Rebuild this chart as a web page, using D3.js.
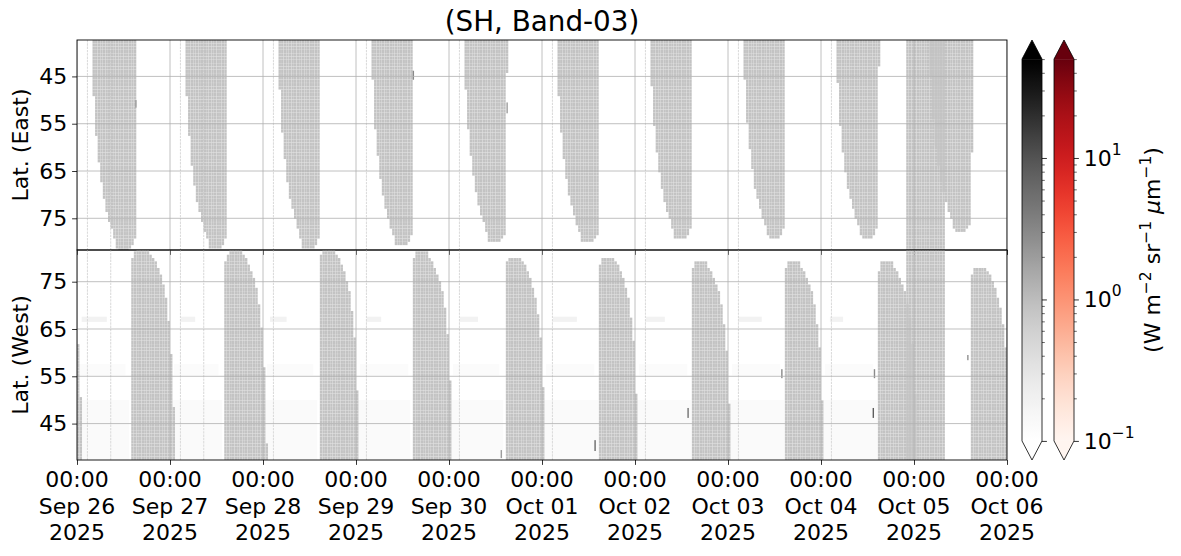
<!DOCTYPE html>
<html><head><meta charset="utf-8">
<script src="https://cdn.jsdelivr.net/npm/d3@7"></script>
<style>body{margin:0;background:#fff} svg{display:block;font-family:"DejaVu Sans",sans-serif}</style>
</head><body><svg id="c" width="1181" height="556"></svg>
<script>
// ---------------- data ----------------
const chartTitle = "(SH, Band-03)";
const startDate = "2025-09-26T00:00:00Z";
const endDate = "2025-10-06T00:00:00Z";
const dayTickLabels = ["Sep 26","Sep 27","Sep 28","Sep 29","Sep 30","Oct 01","Oct 02","Oct 03","Oct 04","Oct 05","Oct 06"];
const latTicks = [45, 55, 65, 75];
const latDomain = [37.3, 81.7];
const colorDomain = [0.1, 50];
const cbMajor = [0.1, 1, 10];
const cbMajorExp = ["−1", "0", "1"];
const cbMinor = [0.2,0.3,0.4,0.5,0.6,0.7,0.8,0.9,2,3,4,5,6,7,8,9,20,30,40,50];

// East (top panel) swaths: day index from Sep 26, start/end hour of day, tip latitude, value
const eastDay       = [0, 1, 2, 3, 4, 5, 6, 7, 8, 9];
const eastStartHour = [3.87, 3.87, 3.95, 4.05, 3.87, 3.80, 3.87, 3.95, 3.87, 3.87];
const eastEndHour   = [15.23, 14.75, 14.90, 14.80, 15.05, 14.96, 14.90, 14.97, 15.05, 15.15];
const eastTipLat    = [81.5, 81.0, 81.0, 80.6, 79.8, 79.8, 78.9, 78.7, 78.7, 77.5];
const eastValue     = [0.85, 0.85, 0.85, 0.85, 0.85, 0.85, 0.85, 0.85, 0.85, 0.85];
// East swath edge shape (distance from tip in deg -> fraction of swath width)
const eastEdgeDist  = [0, 2, 4, 6.5, 10, 16, 26, 36, 45];
const eastLeftFrac  = [0.58, 0.52, 0.45, 0.37, 0.28, 0.18, 0.075, 0.02, 0];
const eastRightDist = [0, 1, 2.5, 45];
const eastRightFrac = [0.85, 0.93, 0.98, 1.0];

// West (bottom panel) swaths
const westDay        = [-1, 0, 1, 2, 3, 4, 5, 6, 7, 8, 9];
const westStartHour  = [14.6, 14.2, 14.27, 14.5, 14.37, 14.45, 14.63, 14.63, 14.53, 14.63, 14.63];
const westWidthHours = [10.8, 11.1, 10.84, 10.3, 10.6, 10.5, 10.2, 10.15, 10.3, 10.3, 10.3];
const westTipLat     = [81.7, 81.7, 81.5, 81.5, 81.0, 79.8, 79.8, 78.7, 78.7, 78.7, 77.7];
const westValue      = [0.85, 0.85, 0.85, 0.85, 0.85, 0.85, 0.85, 0.85, 0.85, 0.85, 0.85];
const westEdgeDist   = [0, 1.7, 4, 6.5, 10, 14, 18, 25, 32, 45];
const westRightFrac  = [0.38, 0.51, 0.62, 0.71, 0.79, 0.845, 0.89, 0.93, 0.97, 1.0];
const westLeftDist   = [0, 1, 2.5, 45];
const westLeftFrac   = [0.1, 0.04, 0, 0];

// full-latitude block (both panels), hours from Sep 26 00:00
const blockStartHour = [213.94];
const blockEndHour   = [224.26];
const blockValue     = [0.85];

// faint columns (hours from Sep 26 00:00), both panels
const faintLineHours = [2.7, 8.7, 26.7, 32.7, 50.7, 74.7, 98.7, 122.7, 146.7, 170.7, 194.7];
const faintLineValue = 0.42;

// faint patches in the West panel
const faintStartHour = [1.2, 26.8, 49.8, 74.7, 98.8, 122.8, 146.8, 170.6, 194.3,
                        0.5, 25, 49, 73, 97, 121, 145, 169, 193,
                        0.3, 24.5, 48.5, 72.5, 96.5, 120.5, 144.5, 168.5, 192.5];
const faintEndHour   = [7.7, 30.5, 54.1, 78.5, 103.5, 129, 151.7, 176.7, 197.7,
                        12.5, 36.5, 61, 85.5, 109, 133.5, 157.5, 181.5, 205.5,
                        13.5, 37.5, 62, 86, 110, 134.5, 158.5, 182.5, 206.5];
const faintLatLo     = [66.5,66.5,66.5,66.5,66.5,66.5,66.5,66.5,66.5,
                        55.2,55.2,55.2,55.2,55.2,55.2,55.2,55.2,55.2,
                        37.3,37.3,37.3,37.3,37.3,37.3,37.3,37.3,37.3];
const faintLatHi     = [67.6,67.6,67.6,67.6,67.6,67.6,67.6,67.6,67.6,
                        57.6,57.6,57.6,57.6,57.6,57.6,57.6,57.6,57.6,
                        50,50,50,50,50,50,50,50,50];
const faintValue     = [0.19,0.19,0.19,0.19,0.19,0.19,0.19,0.19,0.19,
                        0.122,0.122,0.122,0.122,0.122,0.122,0.122,0.122,0.122,
                        0.13,0.13,0.13,0.13,0.13,0.13,0.13,0.13,0.13];

// isolated darker pixels
const markPanel  = ["top","top","top","bot","bot","bot","bot","bot","bot","bot"];
const markHour   = [15.2, 86.8, 111.0, 109.5, 133.7, 157.7, 181.9, 205.8, 205.5, 229.9];
const markLatLo  = [50.0, 43.8, 50.5, 37.7, 39.2, 46.2, 54.6, 54.6, 46.2, 58.4];
const markLatHi  = [51.6, 45.7, 52.8, 39.4, 41.5, 48.3, 56.5, 56.5, 48.3, 59.5];
const markValue  = [2.0, 3, 2.0, 2, 6, 5, 3, 3, 8, 2.5];

// ---------------- setup ----------------
const svg = d3.select("#c");
const L = 77, R = 1007, T = 40, M = 250, B = 460;
const cellHours = 2/3, cellLat = 0.7, gridOrigin = -24, gap = 0.14;

const t0 = new Date(startDate);
const toDate = h => new Date(t0.getTime() + h * 3600e3);
const x = d3.scaleUtc().domain([new Date(startDate), new Date(endDate)]).range([L, R]);
const xh = h => x(toDate(h));
const yTop = d3.scaleLinear().domain(latDomain).range([T, M]);
const yBot = d3.scaleLinear().domain([latDomain[1], latDomain[0]]).range([M, B]);
const grey = d3.scaleSequentialLog(d3.interpolateGreys).domain(colorDomain).clamp(true);

const defs = svg.append("defs");
defs.append("clipPath").attr("id","clipTop").append("rect").attr("x",L).attr("y",T).attr("width",R-L).attr("height",M-T);
defs.append("clipPath").attr("id","clipBot").append("rect").attr("x",L).attr("y",M).attr("width",R-L).attr("height",B-M);

// ---------------- build cells ----------------
const cells = [];
function addCells(panel, hl, hr, l0, l1, value) {
  const k0 = Math.ceil((hl - gridOrigin) / cellHours - 0.5);
  const k1 = Math.floor((hr - gridOrigin) / cellHours - 0.5);
  for (let k = k0; k <= k1; k++) {
    cells.push({panel, a: gridOrigin + k * cellHours, b: gridOrigin + (k + 1) * cellHours, l0, l1, value});
  }
}
const rows = [];
for (let r = 0; latDomain[0] + r * cellLat < latDomain[1] - 1e-6; r++) {
  const l0 = latDomain[0] + r * cellLat;
  rows.push([l0, Math.min(l0 + cellLat, latDomain[1])]);
}
const eL = d3.scaleLinear().domain(eastEdgeDist).range(eastLeftFrac).clamp(true);
const eR = d3.scaleLinear().domain(eastRightDist).range(eastRightFrac).clamp(true);
const wR = d3.scaleLinear().domain(westEdgeDist).range(westRightFrac).clamp(true);
const wL = d3.scaleLinear().domain(westLeftDist).range(westLeftFrac).clamp(true);

eastDay.forEach((d, i) => {
  const a = d * 24 + eastStartHour[i], b = d * 24 + eastEndHour[i], w = b - a;
  rows.forEach(([l0, l1]) => {
    const dist = eastTipLat[i] - (l0 + l1) / 2;
    if (dist < -0.25) return;
    addCells("top", a + eL(dist) * w, a + eR(dist) * w, l0, l1, eastValue[i]);
  });
});
westDay.forEach((d, i) => {
  const a = d * 24 + westStartHour[i], w = westWidthHours[i];
  rows.forEach(([l0, l1]) => {
    const dist = westTipLat[i] - (l0 + l1) / 2;
    if (dist < -0.25) return;
    addCells("bot", a + wL(dist) * w, a + wR(dist) * w, l0, l1, westValue[i]);
  });
});
blockStartHour.forEach((s, i) => {
  rows.forEach(([l0, l1]) => {
    addCells("top", s, blockEndHour[i], l0, l1, blockValue[i]);
    addCells("bot", s, blockEndHour[i], l0, l1, blockValue[i]);
  });
});

// ---------------- draw data ----------------
const panels = [
  {id: "top", clip: "url(#clipTop)", y: yTop},
  {id: "bot", clip: "url(#clipBot)", y: yBot}
];
const days = d3.utcDay.range(new Date(startDate), d3.utcDay.offset(new Date(endDate), 1));
panels.forEach(p => {
  const g = svg.append("g").attr("clip-path", p.clip);
  if (p.id === "bot") {
    g.selectAll("rect.faint").data(faintStartHour.map((s, i) => ({a: s, b: faintEndHour[i], l0: faintLatLo[i], l1: faintLatHi[i], v: faintValue[i]})))
      .join("rect").attr("class","faint")
      .attr("x", d => xh(d.a)).attr("width", d => xh(d.b) - xh(d.a))
      .attr("y", d => Math.min(p.y(d.l0), p.y(d.l1))).attr("height", d => Math.abs(p.y(d.l1) - p.y(d.l0)))
      .attr("fill", d => grey(d.v));
  }
  g.selectAll("line.faint").data(faintLineHours).join("line").attr("class","faint")
    .attr("x1", d => xh(d)).attr("x2", d => xh(d))
    .attr("y1", p.y(latDomain[0])).attr("y2", p.y(latDomain[1]))
    .attr("stroke", grey(faintLineValue)).attr("stroke-width", 1.1).attr("stroke-dasharray", "2.4,0.9");
  g.selectAll("rect.cell").data(cells.filter(c => c.panel === p.id)).join("rect").attr("class","cell")
    .attr("x", d => xh(d.a)).attr("width", d => Math.max(0.1, xh(d.b) - xh(d.a) - gap))
    .attr("y", d => Math.min(p.y(d.l0), p.y(d.l1))).attr("height", d => Math.max(0.1, Math.abs(p.y(d.l1) - p.y(d.l0)) - gap))
    .attr("fill", d => grey(d.value));
  g.selectAll("rect.mark").data(markHour.map((h, i) => ({h, panel: markPanel[i], l0: markLatLo[i], l1: markLatHi[i], v: markValue[i]})).filter(m => m.panel === p.id))
    .join("rect").attr("class","mark")
    .attr("x", d => xh(d.h) - 0.7).attr("width", 1.4)
    .attr("y", d => Math.min(p.y(d.l0), p.y(d.l1))).attr("height", d => Math.abs(p.y(d.l1) - p.y(d.l0)))
    .attr("fill", d => grey(d.v));

  // grid
  g.selectAll("line.vg").data(days).join("line").attr("class","vg")
    .attr("x1", d => x(d)).attr("x2", d => x(d)).attr("y1", p.y.range()[0]).attr("y2", p.y.range()[1])
    .attr("stroke", "#b0b0b0").attr("stroke-width", 0.8);
  g.selectAll("line.hg").data(latTicks).join("line").attr("class","hg")
    .attr("x1", L).attr("x2", R).attr("y1", d => p.y(d)).attr("y2", d => p.y(d))
    .attr("stroke", "#b0b0b0").attr("stroke-width", 0.8);

  // y axis
  const ax = svg.append("g").attr("transform", `translate(${L},0)`)
    .call(d3.axisLeft(p.y).tickValues(latTicks).tickSize(4.9).tickPadding(4.9).tickFormat(d3.format("d")));
  ax.select(".domain").remove();
  ax.selectAll("line").attr("stroke","#000").attr("stroke-width",0.8);
  ax.selectAll("text").attr("font-size", 22).attr("font-family", "DejaVu Sans").attr("fill","#000");

  // x ticks
  const xa = svg.append("g").attr("transform", `translate(0,${Math.max(...p.y.range())})`)
    .call(d3.axisBottom(x).tickValues(days).tickSize(4.9).tickPadding(4.9).tickFormat(() => ""));
  xa.select(".domain").remove();
  xa.selectAll("line").attr("stroke","#000").attr("stroke-width",0.8);
  xa.selectAll("text").remove();

  // frame
  svg.append("rect").attr("x", L).attr("y", Math.min(...p.y.range())).attr("width", R - L)
    .attr("height", Math.abs(p.y.range()[1] - p.y.range()[0]))
    .attr("fill","none").attr("stroke","#000").attr("stroke-width",0.9);
});

// x tick labels
const xl = svg.append("g").attr("font-size", 22).attr("text-anchor","middle").attr("fill","#000");
days.forEach((d, i) => {
  const t = xl.append("text").attr("x", x(d)).attr("y", 487);
  t.append("tspan").attr("x", x(d)).attr("y", 487).text(d3.utcFormat("%H:%M")(d));
  t.append("tspan").attr("x", x(d)).attr("y", 513.5).text(dayTickLabels[i]);
  t.append("tspan").attr("x", x(d)).attr("y", 540).text(d3.utcFormat("%Y")(d));
});

// axis labels & title
svg.append("text").attr("transform", `translate(28,${(T+M)/2}) rotate(-90)`).attr("text-anchor","middle")
  .attr("font-size", 22).text("Lat. (East)");
svg.append("text").attr("transform", `translate(28,${(M+B)/2}) rotate(-90)`).attr("text-anchor","middle")
  .attr("font-size", 22).text("Lat. (West)");
svg.append("text").attr("x", (L+R)/2).attr("y", 31).attr("text-anchor","middle").attr("font-size", 27.8).text(chartTitle);

// ---------------- colorbars ----------------
const cbTop = 40, cbBot = 460, ext = (cbBot - cbTop) / 1.1 * 0.05;
const cbY = d3.scaleLog().domain(colorDomain).range([cbBot - ext, cbTop + ext]);
const bars = [
  {x: 1022, interp: d3.interpolateGreys, id: "gGrey", labels: false},
  {x: 1054, interp: d3.interpolateReds, id: "gRed", labels: true}
];
const bw = 20;
bars.forEach(b => {
  const grad = defs.append("linearGradient").attr("id", b.id).attr("x1",0).attr("y1",1).attr("x2",0).attr("y2",0);
  d3.range(0, 1.0001, 0.025).forEach(t => grad.append("stop").attr("offset", t).attr("stop-color", b.interp(t)));
  const y0 = cbY.range()[1], y1 = cbY.range()[0];
  svg.append("rect").attr("x", b.x).attr("y", y0).attr("width", bw).attr("height", y1 - y0).attr("fill", `url(#${b.id})`);
  svg.append("path").attr("d", `M${b.x},${y0}L${b.x+bw/2},${cbTop}L${b.x+bw},${y0}Z`).attr("fill", b.interp(1));
  svg.append("path").attr("d", `M${b.x},${y1}L${b.x+bw/2},${cbBot}L${b.x+bw},${y1}Z`).attr("fill", b.interp(0));
  svg.append("path").attr("d", `M${b.x},${y0}L${b.x+bw/2},${cbTop}L${b.x+bw},${y0}L${b.x+bw},${y1}L${b.x+bw/2},${cbBot}L${b.x},${y1}Z`)
    .attr("fill","none").attr("stroke","#000").attr("stroke-width",0.8);
  const ma = svg.append("g").attr("transform", `translate(${b.x+bw},0)`)
    .call(d3.axisRight(cbY).tickValues(cbMajor).tickSize(4.9).tickFormat(() => ""));
  ma.select(".domain").remove(); ma.selectAll("line").attr("stroke-width",0.8);
  const mi = svg.append("g").attr("transform", `translate(${b.x+bw},0)`)
    .call(d3.axisRight(cbY).tickValues(cbMinor).tickSize(2.8).tickFormat(() => ""));
  mi.select(".domain").remove(); mi.selectAll("line").attr("stroke-width",0.6);
  if (b.labels) {
    cbMajor.forEach((v, i) => {
      const t = svg.append("text").attr("x", b.x + bw + 9.8).attr("y", cbY(v) + 8).attr("font-size", 22);
      t.append("tspan").text("10");
      t.append("tspan").attr("dy", -11).attr("font-size", 15.5).text(cbMajorExp[i]);
    });
  }
});
const lab = svg.append("text").attr("transform", `translate(1160,${(cbTop+cbBot)/2}) rotate(-90)`)
  .attr("text-anchor","middle").attr("font-size", 22);
lab.append("tspan").text("(W m");
lab.append("tspan").attr("dy", -9).attr("font-size", 15.5).text("−2");
lab.append("tspan").attr("dy", 9).text(" sr");
lab.append("tspan").attr("dy", -9).attr("font-size", 15.5).text("−1");
lab.append("tspan").attr("dy", 9).text(" ");
lab.append("tspan").attr("font-style","italic").text("μ");
lab.append("tspan").text("m");
lab.append("tspan").attr("dy", -9).attr("font-size", 15.5).text("−1");
lab.append("tspan").attr("dy", 9).text(")");
</script></body></html>
